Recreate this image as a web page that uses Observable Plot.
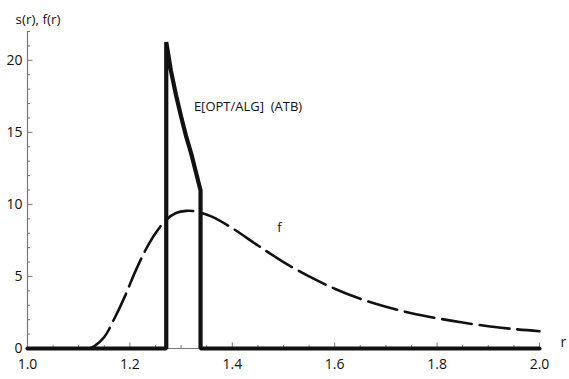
<!DOCTYPE html>
<html>
<head>
<meta charset="utf-8">
<script src="https://cdn.jsdelivr.net/npm/d3@7"></script>
<script src="https://cdn.jsdelivr.net/npm/@observablehq/plot@0.6"></script>
<style>
  html, body { margin: 0; padding: 0; background: #fff; }
  svg { display: block; }
</style>
</head>
<body>
<div id="chart"></div>
<script>
// s(r): expected OPT/ALG ratio curve (ATB) — zero outside the spike
const sR = [1.0, 1.271, 1.271, 1.28, 1.29, 1.30, 1.31, 1.32, 1.338, 1.338, 2.0];
const sV = [0, 0, 21.27, 19.3, 17.6, 16.1, 14.7, 13.5, 10.97, 0, 0];

// f(r): density, dashed
const fR = [1.12, 1.13, 1.15, 1.17, 1.19, 1.21, 1.23, 1.25, 1.27, 1.29, 1.31, 1.33, 1.36, 1.40, 1.45, 1.50, 1.55, 1.60, 1.65, 1.70, 1.75, 1.80, 1.85, 1.90, 1.95, 2.00];
const fV = [0, 0.15, 0.8, 2.1, 3.6, 5.3, 6.8, 8.0, 8.9, 9.4, 9.55, 9.5, 9.15, 8.35, 7.15, 6.0, 5.0, 4.15, 3.45, 2.9, 2.45, 2.1, 1.8, 1.55, 1.35, 1.2];

const xMajor = [1.0, 1.2, 1.4, 1.6, 1.8, 2.0];
const xMinor = [1.05, 1.1, 1.15, 1.25, 1.3, 1.35, 1.45, 1.5, 1.55, 1.65, 1.7, 1.75, 1.85, 1.9, 1.95];
const yMajor = [0, 5, 10, 15, 20];
const yMinor = [1, 2, 3, 4, 6, 7, 8, 9, 11, 12, 13, 14, 16, 17, 18, 19, 21, 22];

const labels = [
  {r: 1.325, v: 16.75, text: "E[OPT/ALG]  (ATB)"},
  {r: 1.488, v: 8.35, text: "f"}
];

const sData = sR.map((r, i) => ({r, v: sV[i]}));
const fData = fR.map((r, i) => ({r, v: fV[i]}));

const axisColor = "#777";
const font = "'Open Sans', sans-serif";

const chart = Plot.plot({
  width: 569,
  height: 379,
  marginLeft: 27,
  marginRight: 30,
  marginTop: 31,
  marginBottom: 31,
  style: {fontFamily: font, background: "#fff", color: "#111"},
  x: {domain: [1, 2]},
  y: {domain: [0, 22]},
  marks: [
    // axis lines
    Plot.ruleX([1], {stroke: axisColor, strokeWidth: 1.2}),
    Plot.ruleY([0], {stroke: axisColor, strokeWidth: 1.2}),
    // inward ticks
    Plot.axisY(yMajor, {anchor: "left", tickSize: -5.5, text: null, stroke: axisColor, label: null}),
    Plot.axisY(yMinor, {anchor: "left", tickSize: -3, text: null, stroke: axisColor, label: null}),
    Plot.axisX(xMajor, {anchor: "bottom", tickSize: -5.5, text: null, stroke: axisColor, label: null}),
    Plot.axisX(xMinor, {anchor: "bottom", tickSize: -3, text: null, stroke: axisColor, label: null}),
    // tick labels
    Plot.axisY(yMajor, {anchor: "left", tickSize: 0, tickPadding: 5, fontSize: 14, fill: "#111", label: null, tickFormat: d => String(d)}),
    Plot.axisX(xMajor, {anchor: "bottom", tickSize: 0, tickPadding: 11, fontSize: 14, fill: "#111", label: null, tickFormat: d => d.toFixed(1)}),
    // f(r) dashed
    Plot.line(fData, {x: "r", y: "v", stroke: "#111", strokeWidth: 2.6, strokeDasharray: "30,8", curve: "catmull-rom"}),
    // s(r) thick
    Plot.line(sData, {x: "r", y: "v", stroke: "#111", strokeWidth: 4.2, strokeLinejoin: "miter", curve: "linear"}),
    // annotations
    Plot.text(labels, {x: "r", y: "v", text: "text", textAnchor: "start", fontSize: 13, fill: "#111"}),
    Plot.text(["s(r), f(r)"], {frameAnchor: "top-left", dx: -12, dy: -17, textAnchor: "start", fontSize: 13.5, fill: "#111"}),
    Plot.text(["r"], {frameAnchor: "bottom-right", dx: 21, dy: -2, textAnchor: "start", fontSize: 14, fill: "#111"})
  ]
});

document.getElementById("chart").appendChild(chart);
</script>
</body>
</html>
